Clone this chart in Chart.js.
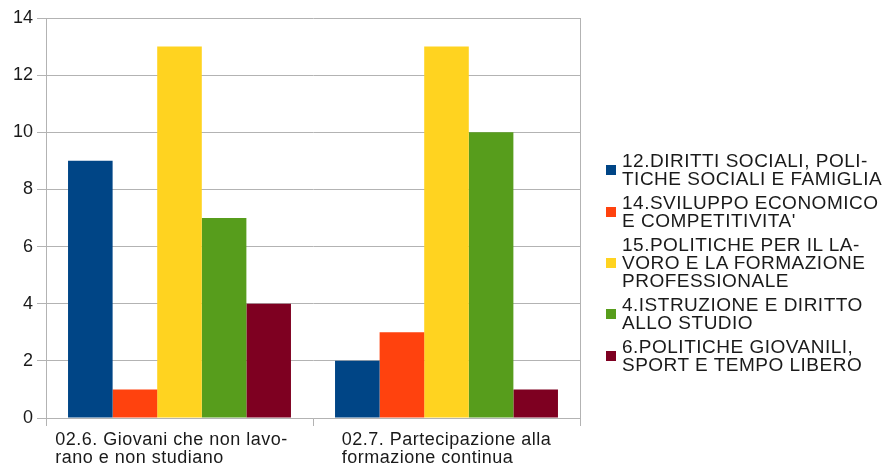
<!DOCTYPE html>
<html lang="it">
<head>
  <meta charset="UTF-8" />
  <title>Interventi per area</title>
  <script src="https://cdn.jsdelivr.net/npm/chart.js"></script>
  <style>
    body {
      margin: 0;
      background: #ffffff;
      font-family: 'Liberation Sans', Arial, sans-serif;
    }

    .wrap {
      position: relative;
      width: 889px;
      height: 464px;
    }

    .legend {
      position: absolute;
      left: 606px;
      top: 152px;
      margin: 0;
      padding: 0;
      list-style: none;
      font-size: 19px;
      line-height: 18px;
      letter-spacing: 0.5px;
      color: #1a1a1a;
    }

    .legend li {
      display: flex;
      align-items: center;
      margin-bottom: 6px;
    }

    .legend .box {
      width: 10px;
      height: 10px;
      margin-right: 6px;
      flex: none;
    }
  </style>
</head>
<body>
  <div class="wrap">
    <canvas id="chart" width="889" height="464"></canvas>
    <ul class="legend" id="legend"></ul>
  </div>

  <script>
    const categories = [
      ['02.6. Giovani che non lavo-', 'rano e non studiano'],
      ['02.7. Partecipazione alla', 'formazione continua']
    ];

    const seriesNames = [
      ['12.DIRITTI SOCIALI, POLI-', 'TICHE SOCIALI E FAMIGLIA'],
      ['14.SVILUPPO ECONOMICO', "E COMPETITIVITA'"],
      ['15.POLITICHE PER IL LA-', 'VORO E LA FORMAZIONE', 'PROFESSIONALE'],
      ['4.ISTRUZIONE E DIRITTO', 'ALLO STUDIO'],
      ['6.POLITICHE GIOVANILI,', 'SPORT E TEMPO LIBERO']
    ];

    const dirittiSociali = [9, 2];
    const sviluppoEconomico = [1, 3];
    const politicheLavoro = [13, 13];
    const istruzione = [7, 10];
    const politicheGiovanili = [4, 1];

    const colors = ['#004586', '#ff420e', '#ffd320', '#579d1c', '#7e0021'];
    const values = [dirittiSociali, sviluppoEconomico, politicheLavoro, istruzione, politicheGiovanili];

    const gridColor = '#b3b3b3';
    const textColor = '#1a1a1a';
    const font = "'Liberation Sans', Arial, sans-serif";

    // x labels: block centred on the category, lines left aligned
    const xLabels = {
      id: 'xLabels',
      afterDraw(chart) {
        const ctx = chart.ctx;
        const x = chart.scales.x;
        ctx.save();
        ctx.font = '18px ' + font;
        ctx.letterSpacing = '0.5px';
        ctx.fillStyle = textColor;
        ctx.textAlign = 'left';
        ctx.textBaseline = 'alphabetic';
        categories.forEach((lines, i) => {
          const center = x.getPixelForTick(i);
          const w = Math.max(...lines.map(l => ctx.measureText(l).width));
          // first category sits a bit left of centre in the original
          const left = center - w / 2 - (i === 0 ? 8 : 0);
          lines.forEach((l, j) => {
            ctx.fillText(l, left, x.top + 27 + j * 18);
          });
        });
        ctx.restore();
      }
    };

    new Chart(document.getElementById('chart'), {
      type: 'bar',
      data: {
        labels: categories.map(c => c.join(' ')),
        datasets: values.map((v, i) => ({
          label: seriesNames[i].join(' '),
          data: v,
          backgroundColor: colors[i],
          borderWidth: 0,
          barPercentage: 1,
          categoryPercentage: 0.835
        }))
      },
      options: {
        responsive: false,
        animation: false,
        layout: { padding: { top: 18, right: 309, left: 0, bottom: 0 } },
        plugins: {
          legend: { display: false },
          tooltip: { enabled: false }
        },
        scales: {
          x: {
            grid: {
              color: ctx => ctx.index === 1 ? 'rgba(0,0,0,0)' : gridColor,
              tickColor: gridColor,
              tickLength: 8,
              offset: true
            },
            border: { color: gridColor },
            ticks: { display: false },
            afterFit: s => { s.height = 46; }
          },
          y: {
            min: 0,
            max: 14,
            ticks: {
              stepSize: 2,
              padding: 4,
              color: textColor,
              font: { family: font, size: 18 }
            },
            grid: { color: gridColor, tickLength: 9 },
            border: { color: gridColor },
            afterFit: s => { s.width = 46; }
          }
        }
      },
      plugins: [xLabels]
    });

    const legend = document.getElementById('legend');
    seriesNames.forEach((lines, i) => {
      const li = document.createElement('li');
      li.innerHTML = `<span class="box" style="background:${colors[i]}"></span><span>${lines.join('<br>')}</span>`;
      legend.appendChild(li);
    });
  </script>
</body>
</html>
